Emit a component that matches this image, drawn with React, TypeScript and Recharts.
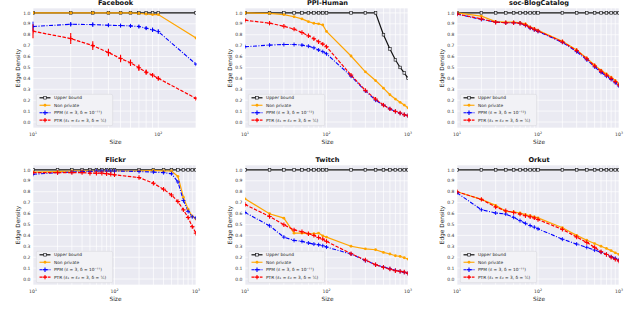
import React from 'react';
import { LineChart, Line, XAxis, YAxis, CartesianGrid, Legend, ErrorBar } from 'recharts';

const FONT = '"DejaVu Sans", "Liberation Sans", sans-serif';

// ---------- categories (sizes) ----------
const sizesShort = [10, 20, 30, 40, 50, 60, 70, 80, 90, 100, 200];
const sizesLong = [10, 20, 30, 40, 50, 60, 70, 80, 90, 100, 200, 300, 400, 500, 600, 700, 800, 900, 1000];
const yTicks = [0, 0.1, 0.2, 0.3, 0.4, 0.5, 0.6, 0.7, 0.8, 0.9, 1.0];

// ---------- Facebook ----------
const fbUpper = [1, 1, 1, 1, 1, 1, 1, 1, 1, 1, 1];
const fbNonPrivate = [1.0, 1.0, 1.0, 1.0, 1.0, 1.0, 0.995, 0.99, 0.985, 0.985, 0.77];
const fbPPM = [0.875, 0.896, 0.893, 0.887, 0.884, 0.881, 0.875, 0.86, 0.845, 0.829, 0.53];
const fbPTR = [0.832, 0.765, 0.70, 0.637, 0.582, 0.543, 0.497, 0.457, 0.43, 0.40, 0.216];
const fbPPMErr = [0.045, 0.02, 0.02, 0.015, 0.015, 0.015, 0.015, 0.015, 0.02, 0.02, 0.01];
const fbPTRErr = [0.065, 0.05, 0.04, 0.035, 0.035, 0.03, 0.03, 0.025, 0.02, 0.02, 0.01];

// ---------- PPI-Human ----------
const ppiUpper = [1, 1, 1, 1, 1, 1, 1, 1, 1, 1, 1, 1, 1, 0.80, 0.67, 0.57, 0.50, 0.45, 0.40];
const ppiNonPrivate = [1.0, 0.995, 0.985, 0.965, 0.945, 0.92, 0.905, 0.90, 0.89, 0.83, 0.605, 0.46, 0.38, 0.31, 0.25, 0.21, 0.18, 0.155, 0.13];
const ppiPPM = [0.69, 0.705, 0.71, 0.71, 0.705, 0.695, 0.68, 0.66, 0.645, 0.625, 0.42, 0.285, 0.20, 0.155, 0.12, 0.097, 0.08, 0.067, 0.058];
const ppiPTR = [0.933, 0.906, 0.878, 0.851, 0.82, 0.79, 0.763, 0.736, 0.714, 0.69, 0.43, 0.29, 0.21, 0.155, 0.12, 0.097, 0.082, 0.067, 0.058];

// ---------- soc-BlogCatalog ----------
const blogUpper = [1, 1, 1, 1, 1, 1, 1, 1, 1, 1, 1, 1, 1, 1, 1, 1, 1, 1, 1];
const blogNonPrivate = [1.0, 0.97, 0.92, 0.915, 0.915, 0.91, 0.90, 0.87, 0.855, 0.84, 0.74, 0.66, 0.585, 0.52, 0.475, 0.44, 0.41, 0.38, 0.35];
const blogPPM = [0.99, 0.94, 0.915, 0.91, 0.91, 0.905, 0.885, 0.86, 0.845, 0.83, 0.73, 0.645, 0.57, 0.505, 0.455, 0.42, 0.39, 0.36, 0.33];
const blogPTR = [0.99, 0.945, 0.915, 0.91, 0.91, 0.905, 0.89, 0.865, 0.85, 0.835, 0.735, 0.655, 0.58, 0.515, 0.465, 0.43, 0.40, 0.37, 0.34];

// ---------- Flickr ----------
const flickrUpper = [1, 1, 1, 1, 1, 1, 1, 1, 1, 1, 1, 1, 1, 1, 1, 1, 1, 1, 1];
const flickrNonPrivate = [0.98, 0.985, 0.99, 0.99, 0.99, 0.99, 0.99, 0.99, 0.99, 0.99, 0.99, 0.995, 0.99, 0.99, 0.94, 0.75, 0.64, 0.575, 0.55];
const flickrPPM = [0.96, 0.975, 0.98, 0.985, 0.985, 0.99, 0.99, 0.99, 0.99, 0.99, 0.985, 0.98, 0.975, 0.965, 0.89, 0.72, 0.62, 0.57, 0.56];
const flickrPTR = [0.975, 0.975, 0.975, 0.975, 0.97, 0.97, 0.97, 0.965, 0.96, 0.955, 0.93, 0.878, 0.823, 0.77, 0.71, 0.634, 0.564, 0.48, 0.42];

// ---------- Twitch ----------
const twitchUpper = [1, 1, 1, 1, 1, 1, 1, 1, 1, 1, 1, 1, 1, 1, 1, 1, 1, 1, 1];
const twitchNonPrivate = [0.735, 0.598, 0.558, 0.42, 0.42, 0.415, 0.415, 0.42, 0.396, 0.384, 0.30, 0.277, 0.268, 0.244, 0.229, 0.213, 0.207, 0.195, 0.183];
const twitchPPM = [0.61, 0.488, 0.384, 0.354, 0.345, 0.33, 0.32, 0.314, 0.305, 0.293, 0.229, 0.168, 0.131, 0.11, 0.094, 0.079, 0.07, 0.061, 0.052];
const twitchPTR = [0.683, 0.573, 0.497, 0.45, 0.433, 0.415, 0.40, 0.38, 0.366, 0.345, 0.232, 0.174, 0.131, 0.107, 0.091, 0.076, 0.07, 0.064, 0.052];

// ---------- Orkut ----------
const orkutUpper = [1, 1, 1, 1, 1, 1, 1, 1, 1, 1, 1, 1, 1, 1, 1, 1, 1, 1, 1];
const orkutNonPrivate = [0.80, 0.73, 0.675, 0.62, 0.615, 0.605, 0.59, 0.58, 0.57, 0.56, 0.47, 0.40, 0.355, 0.325, 0.30, 0.28, 0.26, 0.24, 0.225];
const orkutPPM = [0.79, 0.635, 0.605, 0.595, 0.565, 0.535, 0.51, 0.49, 0.475, 0.46, 0.365, 0.32, 0.29, 0.265, 0.245, 0.225, 0.205, 0.19, 0.175];
const orkutPTR = [0.80, 0.73, 0.66, 0.625, 0.61, 0.595, 0.58, 0.57, 0.56, 0.545, 0.455, 0.385, 0.335, 0.29, 0.25, 0.225, 0.20, 0.18, 0.165];

// ---------- legend labels ----------
const labelUpper = 'Upper bound';
const labelNonPrivate = 'Non private';
const labelPPM11 = 'PPM (ε = 3, δ = 10⁻¹¹)';
const labelPPM12 = 'PPM (ε = 3, δ = 10⁻¹²)';
const labelPTR = 'PTR (ε₁ = ε₂ = 3, δ = ¹⁄ₙ)';

const COLORS = { upper: '#111111', nonPrivate: '#FFA500', ppm: '#0000FF', ptr: '#FF0000' };

function buildRows(sizes: number[], upper: number[], np: number[], ppm: number[], ptr: number[], ppmErr?: number[], ptrErr?: number[]) {
  return sizes.map((s, i) => ({
    size: s,
    upper: upper[i],
    nonPrivate: np[i],
    ppm: ppm[i],
    ptr: ptr[i],
    ppmErr: ppmErr ? ppmErr[i] : 0,
    ptrErr: ptrErr ? ptrErr[i] : 0,
  }));
}

const SquareDot = (p: any) => {
  const { cx, cy, index } = p;
  if (cx == null || cy == null) return <g key={`sq-${index}`} />;
  return <rect key={`sq-${index}`} x={cx - 1.3} y={cy - 1.3} width={2.6} height={2.6} fill="#EAEAF2" stroke={COLORS.upper} strokeWidth={0.6} />;
};
const CircleDot = (p: any) => {
  const { cx, cy, index } = p;
  if (cx == null || cy == null) return <g key={`c-${index}`} />;
  return <circle key={`c-${index}`} cx={cx} cy={cy} r={1.4} fill={COLORS.nonPrivate} />;
};
const makePlus = (color: string, r: number, w: number) => (p: any) => {
  const { cx, cy, index } = p;
  if (cx == null || cy == null) return <g key={`p-${index}`} />;
  return (
    <g key={`p-${color}-${index}`}>
      <line x1={cx - r} x2={cx + r} y1={cy} y2={cy} stroke={color} strokeWidth={w} />
      <line x1={cx} x2={cx} y1={cy - r} y2={cy + r} stroke={color} strokeWidth={w} />
    </g>
  );
};
const BluePlus = makePlus(COLORS.ppm, 2.0, 0.9);
const RedPlus = makePlus(COLORS.ptr, 2.2, 1.1);

const XTick = (props: any) => {
  const { x, y, payload } = props;
  const v = payload.value as number;
  const e = Math.round(Math.log10(v));
  if (Math.abs(Math.pow(10, e) - v) > 1e-6) return <g />;
  return (
    <text x={x} y={y + 7.6} textAnchor="middle" fontSize={4.6} fill="#333" fontFamily={FONT}>
      10<tspan dy={-1.9} fontSize={3.2}>{e}</tspan>
    </text>
  );
};

const YLabel = (props: any) => {
  const vb = props.viewBox || {};
  const cx = (vb.x || 0) + 17.5;
  const cy = (vb.y || 0) + (vb.height || 0) / 2;
  return (
    <text x={cx} y={cy} transform={`rotate(-90 ${cx} ${cy})`} textAnchor="middle" dominantBaseline="central" fontSize={5.8} fill="#262626" fontFamily={FONT}>
      Edge Density
    </text>
  );
};
const XLabel = (props: any) => {
  const vb = props.viewBox || {};
  const cx = (vb.x || 0) + (vb.width || 0) / 2 + 1;
  const cy = (vb.y || 0) + 13.8;
  return (
    <text x={cx} y={cy} textAnchor="middle" dominantBaseline="central" fontSize={5.8} fill="#262626" fontFamily={FONT}>
      Size
    </text>
  );
};

const LegendBox = ({ ppmLabel }: { ppmLabel: string }) => {
  const rows = [
    { label: labelUpper, color: COLORS.upper, dash: undefined as string | undefined, kind: 'sq', w: 1.2 },
    { label: labelNonPrivate, color: COLORS.nonPrivate, dash: undefined, kind: 'c', w: 1.1 },
    { label: ppmLabel, color: COLORS.ppm, dash: '3 1 1 1', kind: 'p', w: 1.1 },
    { label: labelPTR, color: COLORS.ptr, dash: '3 1.2', kind: 'p', w: 1.2 },
  ];
  return (
    <svg width={77} height={32} style={{ display: 'block', overflow: 'visible' }}>
      <rect x={0.3} y={0.3} width={76.4} height={31.4} rx={1.5} fill="#F2F2F6" stroke="#D2D2D8" strokeWidth={0.5} />
      {rows.map((r, i) => {
        const cy = 3.8 + i * 7.45;
        return (
          <g key={r.label}>
            <line x1={3.5} x2={14.5} y1={cy} y2={cy} stroke={r.color} strokeWidth={r.w} strokeDasharray={r.dash} />
            {r.kind === 'sq' && <rect x={7.7} y={cy - 1.3} width={2.6} height={2.6} fill="#EAEAF2" stroke={r.color} strokeWidth={0.6} />}
            {r.kind === 'c' && <circle cx={9} cy={cy} r={1.4} fill={r.color} />}
            {r.kind === 'p' && (
              <g>
                <line x1={6.8} x2={11.2} y1={cy} y2={cy} stroke={r.color} strokeWidth={1.1} />
                <line x1={9} x2={9} y1={cy - 2.2} y2={cy + 2.2} stroke={r.color} strokeWidth={1.1} />
              </g>
            )}
            <text x={18} y={cy} dominantBaseline="central" fontSize={4.3} fill="#262626" fontFamily={FONT}>{r.label}</text>
          </g>
        );
      })}
    </svg>
  );
};

type PanelProps = {
  title: string;
  rows: any[];
  xMax: number;
  xTicks: number[];
  plotLeft: number;
  plotTop: number;
  plotWidth: number;
  ppmLabel: string;
  errors?: boolean;
};

const PLOT_H = 120;
const AX_W = 33;
const TOP_PAD = 10;
const XAX_H = 26;
const RIGHT_PAD = 8;

function Panel({ title, rows, xMax, xTicks, plotLeft, plotTop, plotWidth, ppmLabel, errors }: PanelProps) {
  const width = AX_W + plotWidth + RIGHT_PAD;
  const height = TOP_PAD + PLOT_H + XAX_H;
  return (
    <div style={{ position: 'absolute', left: plotLeft - AX_W, top: plotTop - TOP_PAD, width, height }}>
      <LineChart width={width} height={height} data={rows} margin={{ top: TOP_PAD, right: RIGHT_PAD, bottom: 0, left: 0 }}>
        <CartesianGrid fill="#EAEAF2" fillOpacity={1} stroke="#FFFFFF" strokeWidth={0.7} />
        <XAxis
          dataKey="size"
          type="number"
          scale="log"
          domain={[10, xMax]}
          allowDataOverflow
          ticks={xTicks}
          interval={0}
          axisLine={false}
          tickLine={false}
          tickSize={0}
          tickMargin={0}
          height={XAX_H}
          tick={<XTick />}
          label={<XLabel />}
        />
        <YAxis
          type="number"
          domain={[-0.055, 1.045]}
          allowDataOverflow
          ticks={yTicks}
          interval={0}
          axisLine={false}
          tickLine={false}
          tickSize={0}
          tickMargin={2.5}
          width={AX_W}
          tickFormatter={(v: number) => v.toFixed(1)}
          tick={{ fontSize: 4.5, fill: '#333', fontFamily: FONT }}
          label={<YLabel />}
        />
        <Line dataKey="upper" stroke={COLORS.upper} strokeWidth={1.2} dot={SquareDot} activeDot={false} isAnimationActive={false} name={labelUpper} />
        <Line dataKey="nonPrivate" stroke={COLORS.nonPrivate} strokeWidth={1.2} dot={CircleDot} activeDot={false} isAnimationActive={false} name={labelNonPrivate} />
        <Line dataKey="ppm" stroke={COLORS.ppm} strokeWidth={1.1} strokeDasharray="4 1.5 1 1.5" dot={BluePlus} activeDot={false} isAnimationActive={false} name={ppmLabel}>
          {errors && <ErrorBar dataKey="ppmErr" direction="y" width={0} stroke={COLORS.ppm} strokeWidth={0.9} />}
        </Line>
        <Line dataKey="ptr" stroke={COLORS.ptr} strokeWidth={1.2} strokeDasharray="3.5 1.5" dot={RedPlus} activeDot={false} isAnimationActive={false} name={labelPTR}>
          {errors && <ErrorBar dataKey="ptrErr" direction="y" width={0} stroke={COLORS.ptr} strokeWidth={1.1} />}
        </Line>
        <Legend
          layout="vertical"
          align="center"
          verticalAlign="middle"
          wrapperStyle={{ position: 'absolute', left: AX_W + 2.5, top: TOP_PAD + PLOT_H - 34, width: 77, height: 32 }}
          content={() => <LegendBox ppmLabel={ppmLabel} />}
        />
        <text x={AX_W + plotWidth / 2 + 1} y={TOP_PAD - 3} textAnchor="middle" fontSize={6.6} fontWeight="bold" fill="#111" fontFamily={FONT}>
          {title}
        </text>
      </LineChart>
    </div>
  );
}

const colLefts = [33, 245, 457];
const colWidths = [163, 163, 162];
const rowTops = [8, 165];

export default function App() {
  return (
    <div style={{ position: 'absolute', left: 0, top: 0, width: 640, height: 317, background: '#fff', overflow: 'hidden' }}>
      <Panel title="Facebook" rows={buildRows(sizesShort, fbUpper, fbNonPrivate, fbPPM, fbPTR, fbPPMErr, fbPTRErr)} xMax={200} xTicks={sizesShort}
        plotLeft={colLefts[0]} plotTop={rowTops[0]} plotWidth={colWidths[0]} ppmLabel={labelPPM11} errors />
      <Panel title="PPI-Human" rows={buildRows(sizesLong, ppiUpper, ppiNonPrivate, ppiPPM, ppiPTR)} xMax={1000} xTicks={sizesLong}
        plotLeft={colLefts[1]} plotTop={rowTops[0]} plotWidth={colWidths[1]} ppmLabel={labelPPM12} />
      <Panel title="soc-BlogCatalog" rows={buildRows(sizesLong, blogUpper, blogNonPrivate, blogPPM, blogPTR)} xMax={1000} xTicks={sizesLong}
        plotLeft={colLefts[2]} plotTop={rowTops[0]} plotWidth={colWidths[2]} ppmLabel={labelPPM12} />
      <Panel title="Flickr" rows={buildRows(sizesLong, flickrUpper, flickrNonPrivate, flickrPPM, flickrPTR)} xMax={1000} xTicks={sizesLong}
        plotLeft={colLefts[0]} plotTop={rowTops[1]} plotWidth={colWidths[0]} ppmLabel={labelPPM11} />
      <Panel title="Twitch" rows={buildRows(sizesLong, twitchUpper, twitchNonPrivate, twitchPPM, twitchPTR)} xMax={1000} xTicks={sizesLong}
        plotLeft={colLefts[1]} plotTop={rowTops[1]} plotWidth={colWidths[1]} ppmLabel={labelPPM11} />
      <Panel title="Orkut" rows={buildRows(sizesLong, orkutUpper, orkutNonPrivate, orkutPPM, orkutPTR)} xMax={1000} xTicks={sizesLong}
        plotLeft={colLefts[2]} plotTop={rowTops[1]} plotWidth={colWidths[2]} ppmLabel={labelPPM11} />
    </div>
  );
}
